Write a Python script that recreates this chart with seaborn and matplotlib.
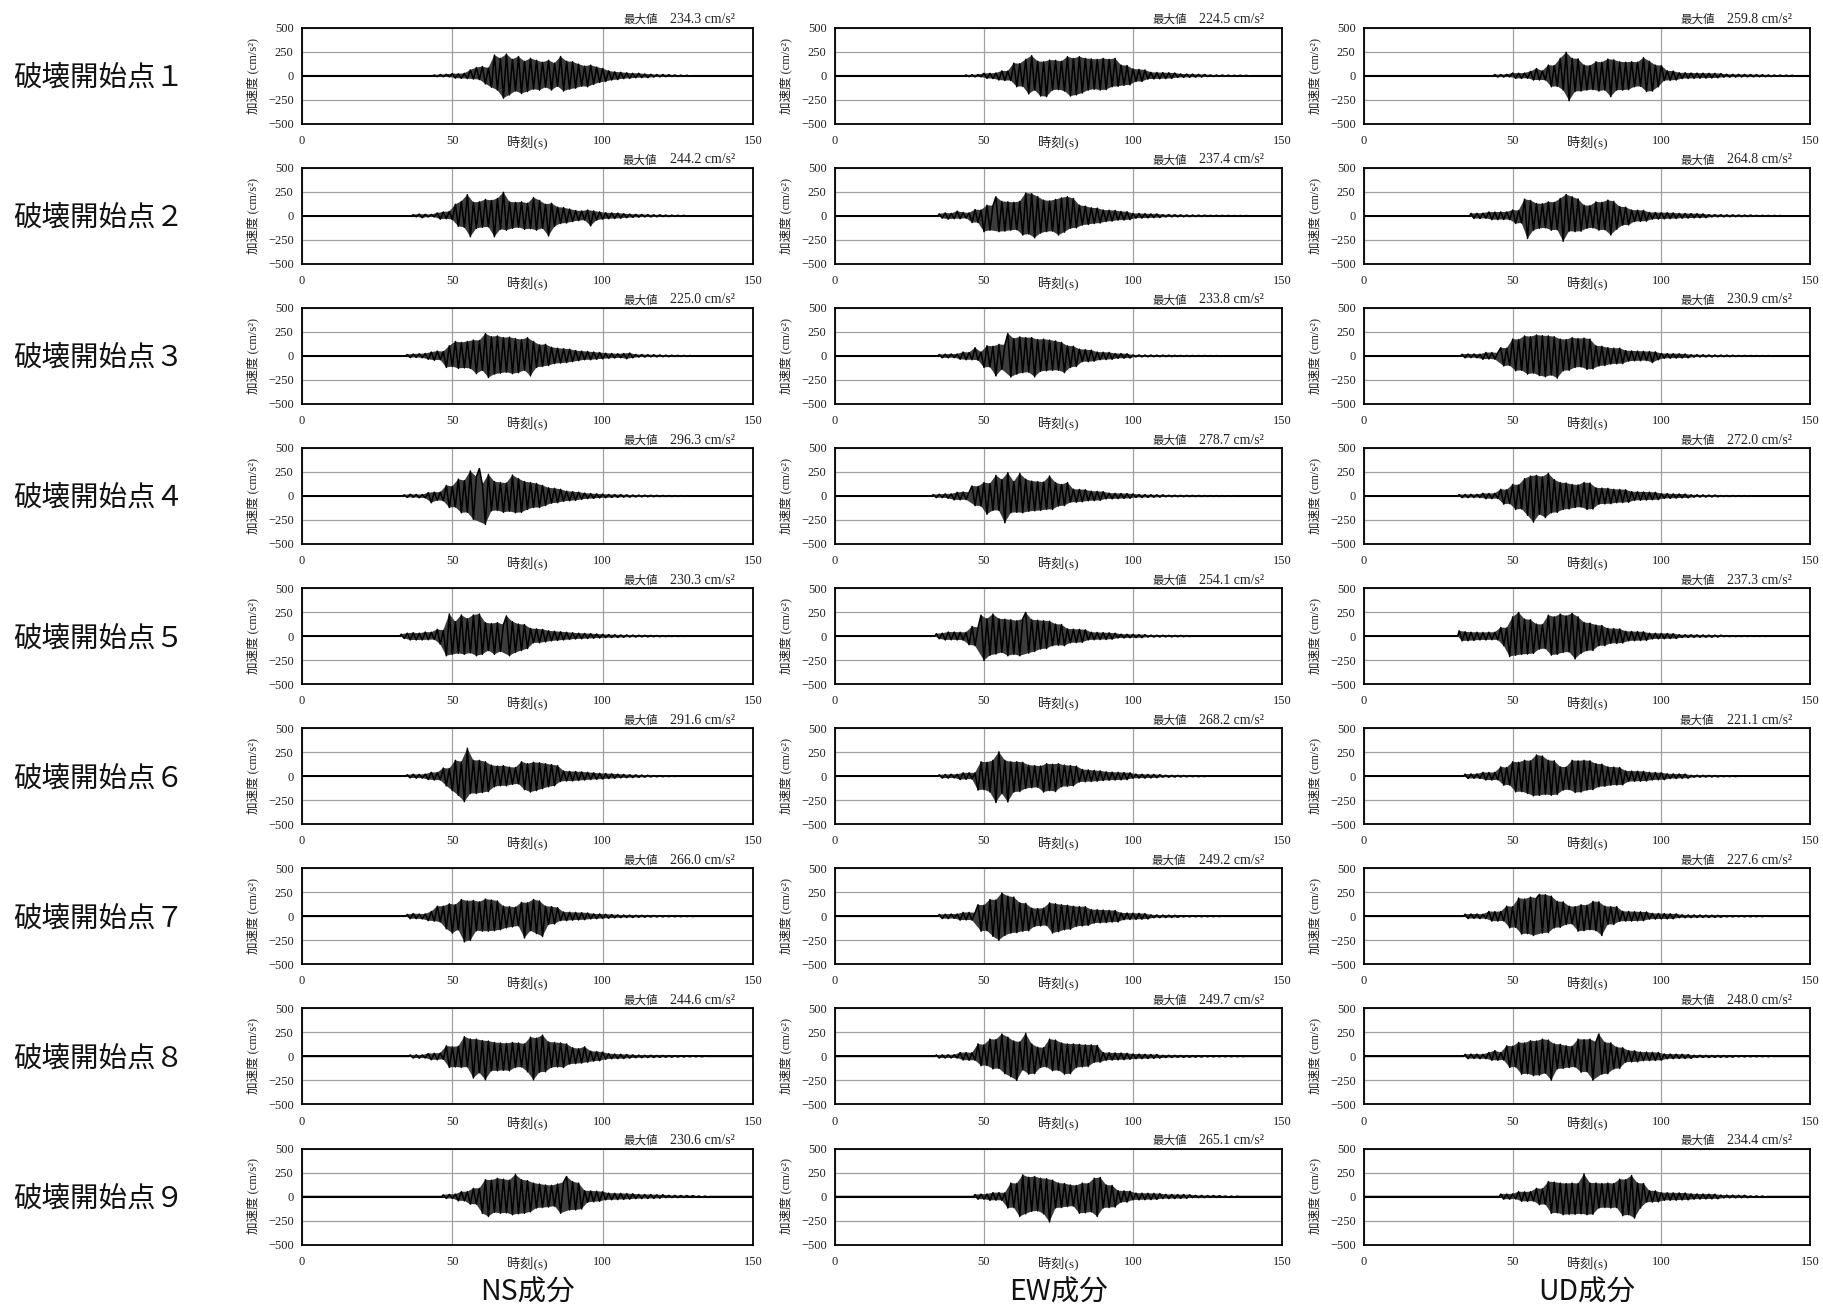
import numpy as np
import pandas as pd
import matplotlib
matplotlib.use("Agg")
import matplotlib.pyplot as plt
import seaborn as sns

# ---- data (cm/s^2, one value per second from the start time) ----
rows = ["破壊開始点１", "破壊開始点２", "破壊開始点３", "破壊開始点４", "破壊開始点５",
        "破壊開始点６", "破壊開始点７", "破壊開始点８", "破壊開始点９"]
components = ["NS成分", "EW成分", "UD成分"]

ns_max = [234.3, 244.2, 225.0, 296.3, 230.3, 291.6, 266.0, 244.6, 230.6]
ew_max = [224.5, 237.4, 233.8, 278.7, 254.1, 268.2, 249.2, 249.7, 265.1]
ud_max = [259.8, 264.8, 230.9, 272.0, 237.3, 221.1, 227.6, 248.0, 234.4]

ns_start = [44, 37, 35, 34, 33, 35, 35, 36, 47]
ew_start = [44, 35, 35, 33, 34, 35, 35, 34, 47]
ud_start = [44, 36, 33, 32, 32, 34, 34, 34, 46]

ns1 = [8, -10, 12, -10, 15, -12, 22, -25, 20, -28, 25, -30, 60, -35, 85, -40, 95, -85,
       80, -120, 215, -150, 180, -234, 225, -200, 170, -160, 200, -185, 150, -165, 180, -140, 160, -150,
       140, -120, 160, -150, 130, -110, 200, -160, 150, -140, 145, -130, 120, -110, 100, -115, 110, -90,
       90, -70, 75, -60, 50, -45, 40, -40, 35, -30, 30, -28, 25, -22, 25, -20, 18, -20,
       15, -14, 12, -12, 12, -10, 10, -8, 8, -7, 6, -6, 5, -5]
ns2 = [12, -10, 18, -20, 15, -12, 14, -12, 30, -35, 40, -30, 45, -40, 120, -110, 150, -120, 220, -218,
       140, -130, 145, -120, 170, -115, 160, -218, 180, -140, 244, -150, 145, -130, 140, -120, 145, -140,
       130, -135, 190, -150, 160, -130, 120, -210, 130, -110, 90, -80, 85, -75, 70, -60, 55, -50,
       50, -45, 60, -105, 50, -45, 40, -35, 32, -30, 30, -28, 28, -25, 22, -20, 18, -16, 15, -14,
       14, -12, 12, -12, 10, -10, 10, -8, 8, -8, 7, -6, 6, -5, 5, -4]
ns3 = [15, -18, 20, -15, 22, -20, 25, -35, 40, -45, 50, -40, 45, -120, 105, -110, 150, -130,
       140, -125, 150, -130, 165, -185, 160, -150, 232, -225, 200, -190, 208, -180, 190, -170,
       195, -185, 180, -175, 170, -150, 190, -208, 150, -120, 115, -110, 120, -100, 90, -80, 80, -75,
       75, -70, 70, -60, 55, -50, 50, -40, 45, -40, 40, -35, 35, -30, 28, -25, 25, -22, 22, -20, 25, -30,
       30, -20, 15, -12, 14, -12, 12, -10, 12, -10, 10, -8, 8, -8, 7, -6, 6, -5, 5, -5, 4, -4]
ns4 = [12, -15, 18, -14, 16, -18, 15, -20, 35, -70, 40, -45, 40, -50, 110, -120, 100, -115, 175,
       -175, 160, -170, 260, -243, 200, 285, 120, -296, 225, -155, 150, -150, 140, -170, 135,
       -160, 218, -175, 180, -170, 150, -140, 140, -120, 130, -120, 110, -100, 85, -75, 80, -70, 70,
       -55, 50, -50, 45, -45, 40, -35, 30, -28, 25, -25, 22, -20, 20, -18, 16, -15, 15, -14, 14, -12, 12,
       -12, 10, -10, 10, -9, 9, -8, 8, -7, 7, -6, 6, -5, 5, -5, 4, -4, 4, -3, 3]
ns5 = [20, -25, 30, -40, 35, -40, 30, -40, 42, -38, 40, -35, 70, -85, 60, -205, 230, -190, 150, -180,
       220, -190, 180, -175, 220, -205, 230, -190, 140, -150, 130, -190, 140, -160, 120, 210, -205, 150,
       -170, 125, -150, 120, -130, 80, -70, 75, -70, 70, -60, 55, -50, 50, -45, 45, -40, 40, -35, 35,
       -30, 30, -28, 28, -25, 25, -22, 22, -20, 18, -16, 15, -15, 14, -14, 12, -12, 12, -10, 10, -10, 9,
       -8, 8, -8, 7, -6, 6, -6, 5, -5, 5, -4, 4, -4, 3, -3, 3]
ns6 = [15, -18, 20, -20, 18, -20, 22, -35, 40, -40, 38, -40, 85, -100, 80, -150, 165, -200, 150, -265,
       291, -180, 165, -180, 165, -170, 150, -160, 115, -110, 105, -100, 110, -100, 95, -85, 90, -80,
       150, -140, 130, -165, 145, -150, 140, -130, 130, -110, 120, -100, 110, -55, 55, -50, 50, -50, 48,
       -45, 45, -40, 40, -35, 35, -32, 30, -30, 28, -25, 25, -22, 22, -18, 18, -16, 15, -14, 14, -12, 12,
       -10, 10, -8, 7, -6, 6, -5, 5, -4, 4, -3]
ns7 = [20, -25, 28, -25, 24, -28, 25, -45, 50, -50, 105, -60, 105, -130, 130, -175, 120, -140,
       175, -266, 160, -250, 165, -150, 150, -155, 180, -155, 170, -150, 160, -140, 105, -120, 100, -110,
       95, -100, 145, -225, 140, -150, 175, -180, 160, -210, 105, -85, 100, -80, 90, -45, 45, -45, 42,
       -40, 40, -38, 38, -35, 35, -28, 25, -25, 24, -22, 22, -20, 18, -16, 15, -14, 13, -12, 12, -12, 11,
       -10, 10, -9, 9, -8, 8, -7, 7, -6, 6, -5, 5, -5, 4, -4, 4, -3, 3, -3]
ns8 = [15, -17, 16, -18, 15, -17, 30, -35, 32, -35, 35, -30, 110, -115, 100, -110, 105, -115, 205,
       -110, 180, -225, 180, -170, 165, -243, 160, -150, 145, -150, 140, -145, 135, -150, 145, -115, 140,
       -110, 130, -160, 200, -244, 190, -165, 222, -160, 150, -115, 145, -110, 140, -115, 130, -80, 90,
       -75, 80, -70, 100, -60, 55, -50, 50, -45, 45, -30, 28, -25, 25, -24, 22, -22, 20, -18, 16,
       -14, 14, -13, 12, -12, 12, -11, 10, -10, 10, -9, 9, -8, 8, -7, 6, -6, 5, -5, 5, -4, 4, -4, 3]
ns9 = [18, -20, 22, -20, 25, -45, 50, -45, 50, -80, 85, -80, 85, -175, 175, -208, 170, -165,
       190, -175, 180, -170, 170, -190, 230, -180, 175, -175, 165, -160, 140, -120, 130, -115, 120, -110,
       115, -100, 130, -175, 150, 208, -140, 155, -140, 140, -130, 60, -60, 58, -55, 55, -50, 50,
       -35, 35, -34, 33, -32, 32, -30, 30, -28, 28, -22, 22, -22, 21, -20, 20, -20, 18, -18, 18,
       -12, 12, -12, 11, -11, 10, -10, 10, -9, 9, -5, 5, -5, 4, -4]

ew1 = [8, -10, 10, -12, 12, -12, 25, -28, 25, -30, 28, -45, 50, -50, 48, -50, 130, -115, 125, -110,
       170, -190, 208, -150, 150, -212, 145, -218, 163, -150, 160, -145, 150, -160, 198, -212,
       180, -200, 198, -180, 180, -150, 175, -140, 170, -150, 180, -145, 170, -115, 180, -110,
       110, -100, 105, -95, 70, -60, 65, -60, 60, -35, 35, -34, 33, -32, 32, -30, 30, -28, 28,
       -18, 18, -17, 17, -16, 16, -15, 14, -14, 13, -8, 8, -8, 7, -7, 7, -6, 6, -6, 5, -5, 5, -4, 4, -4]
ew2 = [20, -25, 30, -35, 25, -30, 48, -30, 35, -25, 30, -70, 65, -70, 60, -165, 110, -150, 105,
       198, -165, 150, -160, 145, -150, 140, -145, 150, -200, 237, -190, 230, -229, 200, -180,
       163, -165, 155, -160, 170, -200, 187, -170, 198, -130, 180, -125, 110, -97, 100, -90, 83, -80, 80,
       -75, 60, -60, 58, -55, 55, -45, 45, -44, 42, -40, 25, -25, 24, -24, 22, -22, 20, -20, 20, -18,
       12, -12, 12, -11, 11, -10, 10, -10, 9, -9, 8, -8, 8, -7, 7, -5, 5, -5, 5, -4, 4, -4, 4, -3, 3, -3, 3, -3, 3]
ew3 = [15, -20, 18, -20, 20, -18, 20, -35, 40, -40, 35, -40, 85, -45, 40, -120, 105, -115, 100,
       -208, 120, -140, 115, 233, -220, 180, -190, 198, -175, 190, -170, 190, -218, 170, -160,
       175, -155, 165, -150, 155, -150, 140, -175, 105, -120, 100, -110, 70, -60, 65, -60, 60, -55,
       40, -40, 38, -38, 36, -35, 25, -25, 24, -24, 22, -22, 10, -10, 10, -10, 9, -9, 9, -8, 8, -8, 8, -7,
       7, -7, 6, -5, 5, -5, 5, -5, 4, -4, 4, -4, 4, -3, 3, -3, 3, -3]
ew4 = [15, -17, 18, -17, 22, -24, 22, -40, 38, -40, 42, -38, 40, 105, -100, 100, -105, 140, -190, 130,
       -150, 215, -150, 170, -279, 243, -175, 150, -170, 235, -175, 175, -160, 155, -155, 150, -150, 145,
       -140, 208, -140, 140, -105, 120, -100, 140, -65, 70, -65, 68, -60, 65, -50, 50, -48, 48, -45, 45,
       -30, 30, -30, 28, -28, 26, -25, 25, -24, 22, -15, 15, -15, 14, -14, 13, -13, 12, -12, 12,
       -8, 8, -8, 8, -7, 7, -7, 7, -6, 6, -6, 6, -5, 5, -5, 4, -4, 4, -4, 4, -3, 3, -3, 3, -3]
ew5 = [25, -28, 30, -40, 42, -38, 42, -40, 40, -42, 40, -90, 100, -100, 90, 218, -254, 180, -200,
       229, -187, 180, -170, 177, -205, 170, -190, 160, -205, 180, 246, -177, 170, -160, 165,
       -135, 160, -130, 155, -100, 125, -95, 120, -100, 75, -70, 72, -68, 70, -65, 65,
       -40, 40, -38, 38, -36, 36, -35, 34, -32, 30, -20, 20, -20, 19, -18, 18, -17, 16, -16, 15,
       -10, 10, -10, 9, -9, 9, -8, 8, -8, 7, -7, 7, -6, 6, -5]
ew6 = [15, -20, 18, -20, 20, -18, 20, -35, 35, -32, 35, -30, 35, -145, 150, -140, 145, -165, 165, -274,
       253, -180, 165, -268, 150, -165, 150, -160, 145, -128, 115, -120, 110, -115, 105, -165, 130, -150,
       125, -160, 130, -110, 115, -105, 110, -100, 105, -60, 70, -58, 65, -55, 60, -52, 55,
       -45, 45, -42, 42, -40, 40, -38, 38, -35, 35, -22, 22, -20, 20, -20, 18, -18, 18, -16, 16,
       -10, 10, -10, 9, -9, 9, -8, 8, -7, 7, -5, 5, -5, 4, -4, 4]
ew7 = [20, -24, 22, -24, 24, -22, 24, -40, 40, -38, 40, -40, 38, 120, -155, 115, -150, 175, -208, 170,
       -249, 243, -200, 210, -175, 200, -170, 140, -155, 135, -150, 85, -105, 80, -100, 85, -95,
       140, -175, 130, -160, 120, -140, 115, -135, 105, -105, 100, -100, 100, -95, 70, -70, 68, -68,
       65, -65, 62, -60, 60, -58, 35, -35, 34, -33, 32, -32, 30, -30, 28, -28, 15, -15, 14, -14, 13,
       -13, 12, -12, 11, -11, 6, -6, 6, -6, 6, -5, 5, -5, 5, -4, 4, -4, 4, -3, 3]
ew8 = [15, -17, 16, -17, 17, -16, 17, -17, 40, -38, 40, -40, 38, -40, 130, -97, 120, -95, 180, -130,
       175, -125, 233, -180, 200, -212, 160, -250, 150, -140, 240, -185, 130, -180, 95, -115, 90, -110,
       180, -150, 170, -145, 140, -185, 130, -180, 130, -115, 125, -110, 120, -105, 120, -62, 115, -60,
       40, -40, 38, -38, 36, -36, 35, -34, 32, -30, 25, -25, 24, -24, 22, -22, 20, -20, 20, -18,
       12, -12, 12, -11, 11, -10, 10, -10, 9, -9, 8, -8, 8, -7, 7, -5, 5, -5, 5, -4, 4, -4, 4, -3, 3, -3, 3, -3]
ew9 = [20, -28, 25, -28, 26, -40, 40, -38, 40, -40, 38, -120, 140, -115, 135, -208, 225, -180, 200,
       -155, 208, -150, 190, -180, 185, -265, 170, -120, 140, -115, 135, -105, 120, -100, 115,
       -175, 140, -170, 135, -160, 190, -208, 198, -120, 120, -115, 115, -110, 60, -60, 58, -58, 55,
       -35, 35, -35, 34, -33, 33, -32, 32, -30, 30, -22, 22, -22, 21, -21, 20, -20, 20, -19, 18,
       -12, 12, -12, 11, -11, 10, -10, 10, -9, 9, -5, 5, -5, 4, -4, 4]

ud1 = [12, -14, 12, -14, 14, -12, 28, -28, 26, -28, 28, -26, 45, -45, 75, -45, 50, -45, 110, -115, 105,
       -110, 180, -150, 243, -260, 180, -165, 175, -160, 110, -150, 105, -145, 145, -160, 140, -150,
       173, -218, 165, -150, 145, -150, 140, -145, 145, -115, 140, -110, 187, -165, 150, -160, 110, -115,
       105, -50, 50, -48, 48, -45, 30, -30, 30, -28, 28, -28, 27, -26, 26, -25, 25, -24, 24, -22, 22,
       -15, 15, -15, 14, -14, 14, -13, 13, -12, 12, -12, 11, -11, 10, -10, 8, -8, 7, -7, 7, -6, 6, -6, 5, -5]
ud2 = [25, -28, 26, -28, 28, -26, 40, -40, 38, -40, 40, -38, 40, -40, 60, -80, 55, -75, 173, -236, 160,
       -150, 128, -130, 125, -125, 145, -150, 140, -145, 180, -265, 222, -160, 198, -165, 175, -160,
       110, -130, 105, -125, 145, -150, 140, -145, 163, -200, 150, -140, 95, -97, 90, -95, 60, -60, 58,
       -58, 56, -55, 35, -35, 34, -34, 33, -32, 32, -30, 30, -28, 25, -25, 24, -24, 23, -22, 22, -21, 20,
       -20, 12, -12, 12, -11, 11, -11, 10, -10, 10, -9, 9, -9, 8, -8, 8, -5, 5, -5, 5, -4, 4, -4, 4, -3, 3]
ud3 = [18, -20, 20, -18, 20, -20, 18, -35, 35, -32, 35, -35, 32, 85, -105, 80, -100, 175, -155, 170,
       -150, 208, -190, 200, -180, 218, -205, 210, -218, 208, -200, 200, -231, 175, -155, 170, -150,
       190, -120, 180, -115, 185, -140, 175, -135, 105, -105, 100, -100, 85, -85, 80, -82, 80, -80,
       55, -55, 52, -52, 50, -50, 48, -48, 45, -70, 42, -40, 25, -25, 24, -24, 23, -23, 22, -22, 20, -20,
       12, -12, 12, -11, 11, -11, 10, -10, 9, -9, 9, -8, 8, -8, 7, -5, 5, -5, 5, -4, 4, -4, 4, -4, 3, -3, 3, -3]
ud4 = [15, -17, 16, -17, 17, -16, 17, -17, 28, -28, 26, -28, 28, -26, 70, -85, 65, -80, 120, -140, 115,
       -135, 180, -200, 208, -272, 215, -190, 200, -225, 236, -175, 170, -170, 140, -140, 135, -135,
       120, -120, 115, -115, 140, -140, 135, -135, 85, -85, 82, -82, 80, -80, 70, -70, 68, -68, 65, -65,
       45, -45, 44, -44, 42, -42, 40, -40, 38, -38, 25, -25, 24, -24, 22, -22, 21, -20, 20, -20,
       12, -12, 12, -11, 11, -11, 10, -10, 10, -9, 5, -5, 5, -5, 5, -4, 4, -4, 4, -3, 3]
ud5 = [55, -50, 45, -48, 40, -45, 40, -40, 38, -40, 40, -38, 40, -40, 90, -100, 85, -212, 200, -200,
       246, -190, 177, -187, 170, -180, 125, -135, 120, -130, 218, -198, 200, -190, 229, -170, 210, -165,
       237, -237, 200, -180, 142, -152, 135, -150, 115, -100, 110, -100, 80, -75, 78, -75, 75, -72,
       50, -50, 48, -48, 46, -46, 45, -44, 30, -30, 29, -29, 28, -28, 27, -26, 25, -25,
       15, -15, 14, -14, 14, -13, 13, -12, 12, -12, 11, -11, 10, -10, 10, -5, 5, -5, 5, -5, 4, -4, 4, -4,
       4, -3, 3, -3, 3, -3]
ud6 = [22, -24, 24, -22, 24, -24, 40, -40, 38, -40, 40, -38, 97, -94, 90, -92, 150, -163, 145, -160,
       165, -180, 160, -205, 221, -200, 210, -190, 165, -198, 160, -190, 97, -145, 95, -140,
       165, -170, 160, -165, 165, -145, 160, -140, 130, -110, 125, -105, 97, -94, 95, -92, 90, -90,
       55, -55, 53, -53, 52, -52, 50, -50, 40, -40, 38, -38, 36, -36, 25, -25, 24, -24, 23, -22, 22, -21,
       10, -10, 10, -10, 9, -9, 9, -8, 8, -8, 5, -5, 5, -4, 4, -4]
ud7 = [22, -24, 24, -22, 24, -24, 22, -24, 50, -50, 48, -50, 50, -48, 105, -120, 100, -115, 190, -185,
       180, -180, 200, -200, 190, 228, -175, 225, -170, 210, -120, 155, -115, 150, -85, 105, -80, 100,
       -155, 120, -150, 115, -140, 155, -150, 150, -200, 105, -85, 100, -85, 100, -52, 52, -50, 50, -50,
       48, -48, 46, -46, 45, -30, 30, -29, 29, -28, 28, -27, 26, -26, 25, -15, 15, -15, 14, -14, 14, -13,
       13, -12, 12, -12, 11, -11, 10, -10, 6, -6, 6, -6, 6, -5, 5, -5, 5, -5, 4, -4, 4, -4, 4]
ud8 = [22, -24, 24, -22, 24, -24, 22, -24, 40, -40, 60, -40, 40, -38, 110, -115, 105, -110, 145, -185,
       140, -180, 163, -200, 160, -195, 180, -175, 170, -248, 130, -130, 125, -125, 110, -115, 105, -110,
       180, -165, 175, -160, 180, -248, 150, 233, -185, 145, -180, 140, -130, 95, -125, 90, -60, 60, -58,
       58, -56, 45, -45, 44, -44, 42, -42, 40, -40, 25, -25, 24, -24, 23, -22, 22, -21, 20, -20,
       12, -12, 12, -11, 11, -11, 10, -10, 10, -9, 9, -9, 8, -8, 8, -5, 5, -5, 5, -4, 4, -4, 4, -3, 3, -3, 3]
ud9 = [25, -28, 26, -28, 28, -26, 50, -50, 48, -50, 50, -48, 85, -85, 80, -82, 155, -175, 150, -170,
       140, -190, 135, -185, 140, -185, 135, -180, 234, -190, 140, -185, 140, -120, 135, -115,
       140, -120, 135, -115, 180, -200, 175, -190, 218, -225, 140, -120, 135, -60, 60, -58, 58, -56,
       40, -40, 39, -39, 38, -38, 37, -36, 36, -35, 28, -28, 27, -27, 26, -26, 25, -25, 24, -24,
       15, -15, 15, -14, 14, -14, 13, -13, 12, -12, 6, -6, 6, -5, 5, -5]

ns_waves = [ns1, ns2, ns3, ns4, ns5, ns6, ns7, ns8, ns9]
ew_waves = [ew1, ew2, ew3, ew4, ew5, ew6, ew7, ew8, ew9]
ud_waves = [ud1, ud2, ud3, ud4, ud5, ud6, ud7, ud8, ud9]

cols = [(ns_waves, ns_start, ns_max), (ew_waves, ew_start, ew_max), (ud_waves, ud_start, ud_max)]

# ---- style ----
sns.set_style("white")
plt.rcParams["font.family"] = ["Liberation Serif", "Noto Sans CJK JP", "DejaVu Sans"]
cjk = ["Noto Sans CJK JP", "DejaVu Sans"]
txt = "#222222"

W, H = 1823, 1309
fig = plt.figure(figsize=(W / 100, H / 100), dpi=100)

col_left = [302, 835, 1364]
col_width = [451, 447, 446]
row_top0, row_pitch, ax_h = 27.7, 140.1, 96

for r in range(9):
    top = row_top0 + r * row_pitch
    for c, (waves, starts, maxes) in enumerate(cols):
        ax = fig.add_axes([col_left[c] / W, 1 - (top + ax_h) / H, col_width[c] / W, ax_h / H])
        vals = np.array(waves[r], dtype=float)
        t0 = starts[r]
        t = t0 + np.arange(len(vals), dtype=float)
        df = pd.DataFrame({"t": np.concatenate([[0, t0 - 0.5], t, [t[-1] + 0.5, 150]]),
                           "a": np.concatenate([[0, 0], vals, [0, 0]])})
        # body of the trace: polygon through the upper peaks, back through the lower peaks
        up, lo = vals > 0, vals < 0
        px = np.concatenate([[t0 - 0.5], t[up], [t[-1] + 0.5], t[lo][::-1]])
        py = np.concatenate([[0], vals[up], [0], vals[lo][::-1]])
        ax.fill(px, py, color="#3c3c3c", lw=0, zorder=3)
        ax.axhline(0, color="black", lw=1.4, zorder=2)
        sns.lineplot(data=df, x="t", y="a", ax=ax, color="black", lw=1.1,
                     estimator=None, sort=False, zorder=4)
        ax.set_xlim(0, 150)
        ax.set_ylim(-500, 500)
        ax.set_xticks([0, 50, 100, 150])
        ax.set_yticks([-500, -250, 0, 250, 500])
        ax.grid(True, color="#a0a0a0", lw=0.9)
        for s in ax.spines.values():
            s.set_visible(True)
            s.set_color("black")
            s.set_linewidth(1.3)
        ax.tick_params(axis="both", length=0, labelsize=9, colors=txt)
        ax.tick_params(axis="x", pad=8)
        ax.tick_params(axis="y", pad=6)
        ax.set_xlabel("")
        ax.set_ylabel("")
        ax.text(0.5, -0.2, "時刻(s)", transform=ax.transAxes, ha="center", va="center",
                fontsize=9.5, color=txt)
        ax.text(-49 / col_width[c], 0.5, "加速度 (cm/s²)", transform=ax.transAxes, rotation=90,
                ha="center", va="center", fontsize=9, color=txt)
        num = ax.text(1 - 18 / col_width[c], 1 + 8 / ax_h, f"{maxes[r]:.1f} cm/s²",
                      transform=ax.transAxes, ha="right", va="center", fontsize=10, color=txt)
        ax.annotate("最大値", xy=(0, 0.5), xycoords=num, xytext=(-9, 0), textcoords="offset points",
                    ha="right", va="center", fontsize=8.3, family=cjk, color=txt)
    fig.text(13 / W, 1 - (top + ax_h / 2 + 2) / H, rows[r], ha="left", va="center",
             fontsize=20.5, family=cjk, color="#111111")

for c, name in enumerate(components):
    fig.text((col_left[c] + col_width[c] / 2) / W, 1 - 1293 / H, name, ha="center", va="center",
             fontsize=20.5, family=cjk, color="#111111")

fig.savefig("out.png", dpi=100, facecolor="white")
